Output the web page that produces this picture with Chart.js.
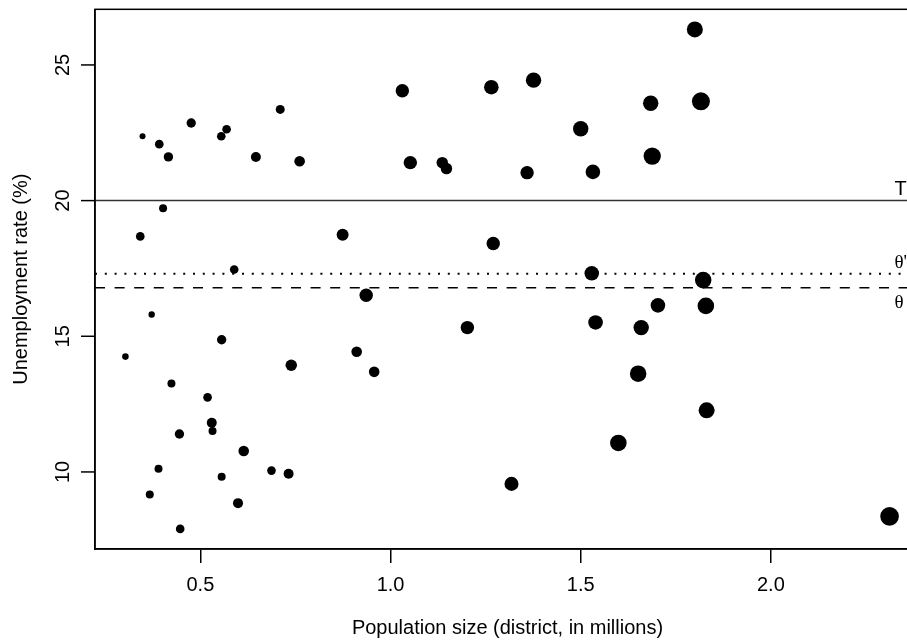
<!DOCTYPE html>
<html>
<head>
<meta charset="utf-8">
<script src="https://cdn.jsdelivr.net/npm/chart.js@4.4.1/dist/chart.umd.min.js"></script>
<style>
html, body { margin: 0; padding: 0; background: #fff; overflow: hidden; }
canvas { display: block; }
</style>
</head>
<body>
<canvas id="unempChart" width="930" height="642"></canvas>
<script>
// population (millions) / unemployment rate (%) / symbol size (cex) per district
const popSize = [0.348, 0.392, 0.416, 0.476, 0.555, 0.569, 0.710, 0.646, 0.761, 0.402,
                 0.342, 0.874, 0.589, 0.372, 0.556, 0.303, 0.739, 0.424, 0.519, 0.530,
                 0.532, 0.445, 0.614, 0.390, 0.687, 0.732, 0.556, 0.367, 0.599, 0.447,
                 1.031, 1.265, 1.376, 1.500, 1.052, 1.136, 1.147, 1.359, 1.532, 1.270,
                 1.529, 0.936, 1.202, 1.539, 0.911, 0.957, 1.599, 1.318, 1.800, 1.684,
                 1.816, 1.688, 1.822, 1.703, 1.829, 1.659, 1.651, 1.831, 2.312];
const unempRate = [22.37, 22.08, 21.61, 22.86, 22.37, 22.63, 23.36, 21.61, 21.45, 19.72,
                   18.68, 18.74, 17.46, 15.80, 14.87, 14.25, 13.93, 13.26, 12.75, 11.81,
                   11.51, 11.40, 10.77, 10.12, 10.05, 9.93, 9.82, 9.17, 8.85, 7.90,
                   24.05, 24.18, 24.44, 22.65, 21.40, 21.40, 21.18, 21.03, 21.06, 18.42,
                   17.32, 16.51, 15.32, 15.51, 14.43, 13.69, 11.07, 9.56, 26.31, 23.59,
                   23.66, 21.64, 17.07, 16.14, 16.12, 15.32, 13.62, 12.27, 8.36];
const symbolCex = [0.67, 0.96, 1.04, 1.04, 0.96, 0.96, 1.00, 1.11, 1.18, 0.89,
                   0.96, 1.33, 0.96, 0.71, 1.04, 0.73, 1.27, 0.89, 0.96, 1.11,
                   0.89, 1.04, 1.18, 0.89, 0.96, 1.11, 0.89, 0.89, 1.11, 0.96,
                   1.49, 1.62, 1.71, 1.71, 1.49, 1.27, 1.27, 1.49, 1.62, 1.49,
                   1.62, 1.49, 1.49, 1.62, 1.18, 1.18, 1.84, 1.56, 1.78, 1.71,
                   2.00, 1.93, 1.84, 1.62, 1.84, 1.71, 1.84, 1.78, 2.07];

const xTicks = [0.5, 1.0, 1.5, 2.0];
const yTicks = [10, 15, 20, 25];

// reference levels: T, theta', theta
const refValues = [20, 17.30, 16.79];
const refLabels = ['T', "θ'", 'θ'];
const refLabelX = 2.325;

const FONT = "'Liberation Sans', Arial, sans-serif";

const refLines = {
    id: 'refLines',
    afterDatasetsDraw(chart) {
        const { ctx, chartArea: a, scales: { x, y } } = chart;
        const styles = [
            { color: '#333', width: 1.5, dash: [], dy: -6, font: '20px ' + FONT },
            { color: '#000', width: 2, dash: [2, 7.8], dy: -6, font: "19px 'Liberation Serif', serif" },
            { color: '#000', width: 1.5, dash: [10, 9.6], dy: 20, font: "19px 'Liberation Serif', serif" }
        ];
        ctx.save();
        refValues.forEach((v, i) => {
            const s = styles[i];
            const py = y.getPixelForValue(v);
            ctx.beginPath();
            ctx.strokeStyle = s.color;
            ctx.lineWidth = s.width;
            ctx.setLineDash(s.dash);
            ctx.moveTo(a.left, py);
            ctx.lineTo(a.right, py);
            ctx.stroke();
            ctx.setLineDash([]);
            ctx.fillStyle = '#000';
            ctx.font = s.font;
            ctx.textAlign = 'left';
            ctx.textBaseline = 'alphabetic';
            ctx.fillText(refLabels[i], x.getPixelForValue(refLabelX), py + s.dy);
        });
        ctx.restore();
    }
};

const frame = {
    id: 'frame',
    afterDraw(chart) {
        const { ctx, chartArea: a, scales: { y } } = chart;
        ctx.save();
        ctx.setLineDash([]);
        ctx.strokeStyle = '#000';
        ctx.lineWidth = 1.5;
        ctx.strokeRect(a.left, a.top, a.right - a.left, a.bottom - a.top);
        // y ticks and labels, rotated like the original
        yTicks.forEach(v => {
            const py = y.getPixelForValue(v);
            ctx.beginPath();
            ctx.moveTo(a.left - 14, py);
            ctx.lineTo(a.left, py);
            ctx.stroke();
        });
        ctx.fillStyle = '#000';
        ctx.font = '20px ' + FONT;
        ctx.textAlign = 'center';
        ctx.textBaseline = 'middle';
        yTicks.forEach(v => {
            ctx.save();
            ctx.translate(63, y.getPixelForValue(v));
            ctx.rotate(-Math.PI / 2);
            ctx.fillText(String(v), 0, 0);
            ctx.restore();
        });
        ctx.restore();
    }
};

new Chart(document.getElementById('unempChart'), {
    type: 'scatter',
    data: {
        datasets: [{
            data: popSize.map((p, i) => ({ x: p, y: unempRate[i] })),
            backgroundColor: '#000',
            borderWidth: 0,
            pointRadius: ctx => 4.5 * symbolCex[ctx.dataIndex],
            pointHoverRadius: ctx => 4.5 * symbolCex[ctx.dataIndex]
        }]
    },
    options: {
        responsive: false,
        animation: false,
        devicePixelRatio: 1,
        layout: { padding: { left: 0, right: 10, top: 6, bottom: 0 } },
        plugins: { legend: { display: false }, tooltip: { enabled: false } },
        scales: {
            x: {
                type: 'linear',
                min: 0.223,
                max: 2.392,
                afterBuildTicks: s => { s.ticks = xTicks.map(v => ({ value: v })); },
                afterFit: s => { s.height = 93; },
                grid: { drawOnChartArea: false, drawTicks: true, tickLength: 14, color: '#000', lineWidth: 1.5 },
                border: { display: true, color: '#000', width: 1.5 },
                ticks: { color: '#000', font: { family: FONT, size: 20 }, padding: 10, maxRotation: 0,
                         callback: v => Number(v).toFixed(1) },
                title: { display: true, text: 'Population size (district, in millions)', color: '#000',
                         font: { family: FONT, size: 20 }, padding: { top: 0, bottom: 2 } }
            },
            y: {
                type: 'linear',
                min: 7.16,
                max: 27.05,
                afterBuildTicks: s => { s.ticks = yTicks.map(v => ({ value: v })); },
                afterFit: s => { s.width = 95; },
                grid: { display: false },
                border: { display: true, color: '#000', width: 1.5 },
                ticks: { display: false },
                title: { display: true, text: 'Unemployment rate (%)', color: '#000',
                         font: { family: FONT, size: 20 }, padding: { top: 9, bottom: 0 } }
            }
        }
    },
    plugins: [refLines, frame]
});
</script>
</body>
</html>
